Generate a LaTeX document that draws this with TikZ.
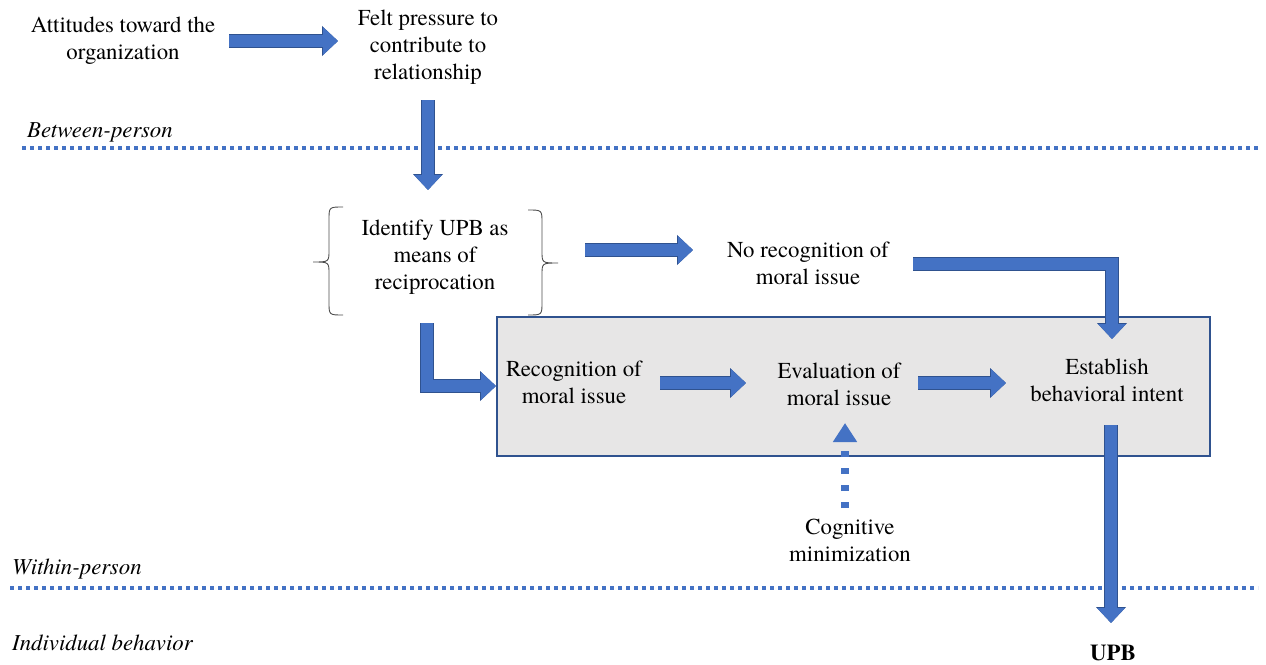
\documentclass[tikz,border=0pt]{standalone}
\usepackage{fontspec}
\IfFontExistsTF{texgyretermes-regular.otf}{%
  \newfontfamily\tnr{texgyretermes-regular.otf}[BoldFont=texgyretermes-bold.otf, ItalicFont=texgyretermes-italic.otf, BoldItalicFont=texgyretermes-bolditalic.otf]}{%
  \newfontfamily\tnr{Liberation Serif}}
\usetikzlibrary{arrows.meta}
\definecolor{ablue}{HTML}{4472C4}
\definecolor{dblue}{HTML}{2F528F}
\definecolor{boxgray}{HTML}{E7E6E6}
\begin{document}
\begin{tikzpicture}[x=1pt,y=-1pt,
  txt/.style={align=center, font=\tnr\fontsize{22.8}{27}\selectfont, inner sep=0pt},
  lbl/.style={anchor=west, font=\tnr\fontsize{22.8}{27}\selectfont\itshape, inner sep=0pt},
  barrow/.style={draw=ablue, line width=12.5pt, line join=miter,
    -{Triangle[width=27pt,length=15pt]},
    preaction={draw=dblue, line width=14pt, line join=miter, -{Triangle[width=29pt,length=16pt]}}},
  dotline/.style={draw=ablue, line width=4pt, dash pattern=on 4pt off 4pt},
  darrow/.style={draw=ablue, line width=7.5pt, dash pattern=on 6.5pt off 10.5pt,
    -{Triangle[width=23pt,length=19pt]}},
  bracket/.style={draw=black!70, line width=0.9pt}
]
\useasboundingbox (0,0) rectangle (1266,664);

% grey box
\node[draw=dblue, fill=boxgray, line width=1.3pt, minimum width=713pt, minimum height=139pt, inner sep=0pt] (box) at (853.5,386.5) {};

% dotted separators
\coordinate (s1a) at (22,148); \coordinate (s1b) at (1258,148);
\coordinate (s2a) at (10,588); \coordinate (s2b) at (1258,588);
\draw[dotline] (s1a) -- (s1b);
\draw[dotline] (s2a) -- (s2b);

% texts
\node[txt] (att) at (123,41) {Attitudes toward the\\organization};
\node[txt] (felt) at (428,47) {Felt pressure to\\contribute to\\relationship};
\node[txt] (ident) at (435,257) {Identify UPB as\\means of\\reciprocation};
\node[txt] (norec) at (808,263) {No recognition of\\moral issue};
\node[txt] (rec) at (574,382) {Recognition of\\moral issue};
\node[txt] (eval) at (839,384) {Evaluation of\\moral issue};
\node[txt] (estab) at (1107,380) {Establish\\behavioral intent};
\node[txt] (cog) at (850,540) {Cognitive\\minimization};
\node[txt, font=\tnr\fontsize{22.8}{27}\selectfont\bfseries] (upb) at (1113,653) {UPB};
\node[lbl] (between) at (27,132) {Between-person};
\node[lbl] (within) at (12,569) {Within-person};
\node[lbl] (indiv) at (12,643) {Individual behavior};

% brackets round "Identify UPB"
\draw[bracket] (343,207) .. controls (329,207) .. (329,220) -- (329,250)
  .. controls (329,262) .. (313,262) .. controls (329,262) .. (329,274)
  -- (329,302) .. controls (329,315) .. (343,315);
\draw[bracket] (528,210) .. controls (542,210) .. (542,223) -- (542,251)
  .. controls (542,263) .. (558,263) .. controls (542,263) .. (542,275)
  -- (542,302) .. controls (542,315) .. (528,315);

% arrow coordinates
\coordinate (a1s) at (229,41);  \coordinate (a1e) at (338,41);
\coordinate (a2s) at (428,100); \coordinate (a2e) at (428,190);
\coordinate (a3s) at (585,250); \coordinate (a3e) at (693,250);
\coordinate (a4s) at (427,323); \coordinate (a4c) at (427,386); \coordinate (a4e) at (496,386);
\coordinate (a5s) at (913,264); \coordinate (a5c) at (1112,264); \coordinate (a5e) at (1112,339);
\coordinate (a6s) at (660,383); \coordinate (a6e) at (746,383);
\coordinate (a7s) at (918,383); \coordinate (a7e) at (1006,383);
\coordinate (a8s) at (845,508); \coordinate (a8e) at (845,423);
\coordinate (a9s) at (1111,425); \coordinate (a9e) at (1111,623);

\draw[barrow] (a1s) -- (a1e);
\draw[barrow] (a2s) -- (a2e);
\draw[barrow] (a3s) -- (a3e);
\draw[barrow] (a4s) -- (a4c) -- (a4e);
\draw[barrow] (a5s) -- (a5c) -- (a5e);
\draw[barrow] (a6s) -- (a6e);
\draw[barrow] (a7s) -- (a7e);
\draw[darrow] (a8s) -- (a8e);
\draw[barrow] (a9s) -- (a9e);
\end{tikzpicture}
\end{document}
